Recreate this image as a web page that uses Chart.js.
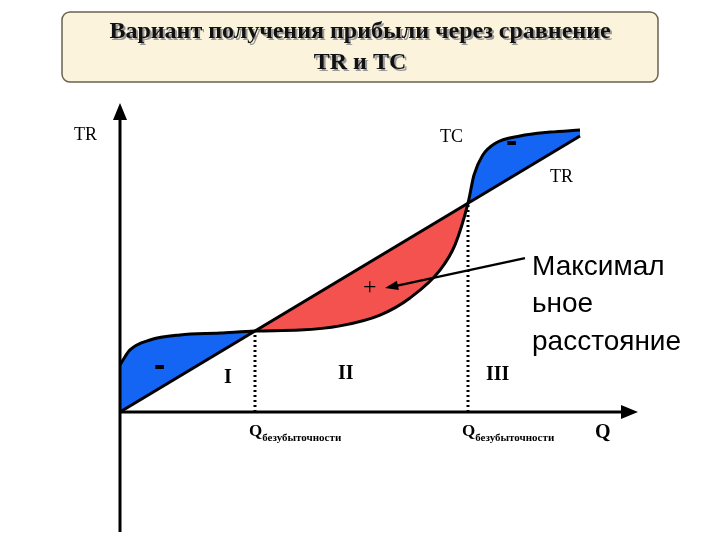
<!DOCTYPE html>
<html>
<head>
<meta charset="utf-8">
<script src="https://cdn.jsdelivr.net/npm/chart.js@4/dist/chart.umd.min.js"></script>
<style>
  body { margin: 0; background: #fff; }
  #wrap { width: 720px; height: 540px; }
</style>
</head>
<body>
<div id="wrap"><canvas id="c" width="720" height="540"></canvas></div>
<script>
// Q values and curve levels (arbitrary units)
const trQ = [0, 92];
const trValues = [0, 92];
const tcQ = [0, 2, 6, 12, 20, 27, 36, 44, 52, 58, 64, 67, 69.6, 70.8, 72.5, 75, 80, 86, 92];
const tcValues = [15.7, 20.7, 24, 25.7, 26.3, 27, 27.3, 28.7, 32.3, 38, 47.3, 55.7, 69.6, 79, 85.5, 89.5, 92, 93.3, 94];
const breakEvenQ = [27, 69.6];

const blue = '#1565f5';
const red = '#f4524f';

const pts = (xs, ys) => xs.map((x, i) => ({ x: x, y: ys[i] }));

const overlay = {
    id: 'overlay',
    beforeDraw(chart) {
        const ctx = chart.ctx;
        ctx.save();
        // title scroll box
        ctx.fillStyle = '#fbf3dc';
        ctx.strokeStyle = '#6b6250';
        ctx.lineWidth = 1.5;
        ctx.beginPath();
        ctx.roundRect(62, 12, 596, 70, 8);
        ctx.fill();
        ctx.stroke();
        ctx.textAlign = 'center';
        ctx.font = 'bold 24px "Liberation Serif"';
        ctx.fillStyle = '#999';
        ctx.fillText('Вариант получения прибыли через сравнение', 362, 40);
        ctx.fillText('TR и TC', 362, 71);
        ctx.fillStyle = '#111';
        ctx.fillText('Вариант получения прибыли через сравнение', 360, 38);
        ctx.fillText('TR и TC', 360, 69);
        ctx.restore();
    },
    afterDraw(chart) {
        const ctx = chart.ctx;
        const x = chart.scales.x, y = chart.scales.y;
        const ox = x.getPixelForValue(0), oy = y.getPixelForValue(0);
        ctx.save();
        ctx.strokeStyle = '#000';
        ctx.fillStyle = '#000';
        ctx.lineWidth = 3;
        // axes
        ctx.beginPath();
        ctx.moveTo(ox, 532); ctx.lineTo(ox, 112);
        ctx.moveTo(ox, oy); ctx.lineTo(628, oy);
        ctx.stroke();
        ctx.beginPath();
        ctx.moveTo(ox, 103); ctx.lineTo(ox - 7, 120); ctx.lineTo(ox + 7, 120); ctx.closePath();
        ctx.moveTo(638, oy); ctx.lineTo(621, oy - 7); ctx.lineTo(621, oy + 7); ctx.closePath();
        ctx.fill();
        // arrow to max distance
        const ax1 = x.getPixelForValue(81), ay1 = y.getPixelForValue(51.3);
        const ax2 = x.getPixelForValue(53), ay2 = y.getPixelForValue(41.3);
        ctx.lineWidth = 2.5;
        ctx.beginPath();
        ctx.moveTo(ax1, ay1); ctx.lineTo(ax2 + 10, ay2 - 2);
        ctx.stroke();
        const ang = Math.atan2(ay2 - ay1, ax2 - ax1);
        ctx.beginPath();
        ctx.moveTo(ax2, ay2);
        ctx.lineTo(ax2 - 14 * Math.cos(ang - 0.35), ay2 - 14 * Math.sin(ang - 0.35));
        ctx.lineTo(ax2 - 14 * Math.cos(ang + 0.35), ay2 - 14 * Math.sin(ang + 0.35));
        ctx.closePath();
        ctx.fill();
        // labels
        ctx.textAlign = 'left';
        ctx.textBaseline = 'alphabetic';
        ctx.font = '18px "Liberation Serif"';
        ctx.fillText('TR', 74, 140);
        ctx.fillText('TC', 440, 142);
        ctx.fillText('TR', 550, 182);
        ctx.font = '24px "Liberation Serif"';
        ctx.fillText('+', 363, 294);
        ctx.font = 'bold 20px "Liberation Serif"';
        ctx.fillText('I', 224, 383);
        ctx.fillText('II', 338, 379);
        ctx.fillText('III', 486, 380);
        ctx.fillText('Q', 595, 438);
        ctx.font = 'bold 34px "Liberation Sans"';
        ctx.fillText('-', 506, 152);
        ctx.fillText('-', 154, 376);
        ctx.font = '28px "Liberation Sans"';
        ctx.fillText('Максимал', 532, 275);
        ctx.fillText('ьное', 532, 312);
        ctx.fillText('расстояние', 532, 350);
        breakEvenQ.forEach(q => {
            const px = x.getPixelForValue(q) - 6;
            ctx.font = 'bold 17px "Liberation Serif"';
            ctx.fillText('Q', px, 436);
            const w = ctx.measureText('Q').width;
            ctx.font = 'bold 11px "Liberation Serif"';
            ctx.fillText('безубыточности', px + w, 441);
        });
        ctx.restore();
    }
};

new Chart(document.getElementById('c'), {
    type: 'line',
    data: {
        datasets: [
            {
                label: 'TC', data: pts(tcQ, tcValues), borderColor: '#000', borderWidth: 3,
                pointRadius: 0, cubicInterpolationMode: 'monotone',
                fill: { target: 1, above: blue, below: red }
            },
            {
                label: 'TR', data: pts(trQ, trValues), borderColor: '#000', borderWidth: 3,
                pointRadius: 0, fill: false
            },
            ...breakEvenQ.map(q => ({
                label: 'Q', data: [{ x: q, y: 0 }, { x: q, y: q }], borderColor: '#000',
                borderWidth: 3, borderDash: [2, 3], pointRadius: 0, fill: false
            }))
        ]
    },
    options: {
        responsive: false,
        animation: false,
        layout: { padding: { left: 120, right: 100, top: 112, bottom: 8 } },
        scales: {
            x: { type: 'linear', min: 0, max: 100, display: false },
            y: { type: 'linear', min: -40, max: 100, display: false }
        },
        plugins: {
            legend: { display: false },
            tooltip: { enabled: false },
            filler: { drawTime: 'beforeDatasetsDraw' }
        }
    },
    plugins: [overlay]
});
</script>
</body>
</html>
